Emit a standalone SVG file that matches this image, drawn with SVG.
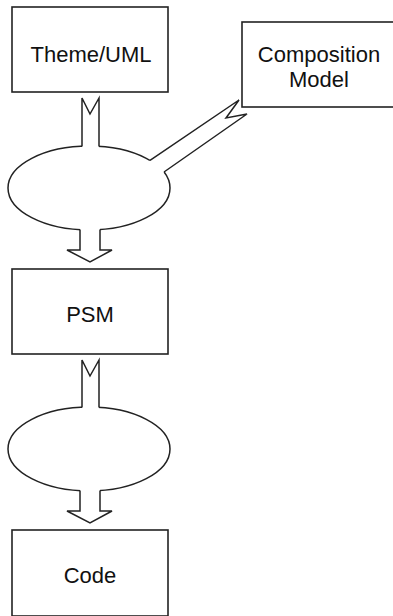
<svg xmlns="http://www.w3.org/2000/svg" width="393" height="616" viewBox="0 0 393 616">
<style>
.box{fill:#fff;stroke:#222;stroke-width:1.6}
.ell{fill:#fff;stroke:#222;stroke-width:1.5}
.cov{fill:#fff;stroke:none}
.ln{fill:none;stroke:#222;stroke-width:1.5;stroke-linejoin:miter}
.t{font-family:"Liberation Sans",Arial,sans-serif;font-size:22px;fill:#111;text-anchor:middle}
</style>
<rect width="393" height="616" fill="#fff"/>
<g id="theme-uml">
<rect class="box" x="12" y="7" width="156" height="85"/>
<text class="t" x="91" y="62">Theme/UML</text>
</g>
<g id="composition-model">
<rect class="box" x="242" y="22" width="156" height="85"/>
<text class="t" x="319" y="62">Composition</text>
<text class="t" x="319" y="87">Model</text>
</g>
<g id="transform1">
<ellipse class="ell" cx="89" cy="188" rx="81" ry="42"/>
</g>
<g id="psm">
<rect class="box" x="12" y="269" width="156" height="85"/>
<text class="t" x="90" y="322">PSM</text>
</g>
<g id="transform2">
<ellipse class="ell" cx="89" cy="449" rx="81" ry="42"/>
</g>
<g id="code">
<rect class="box" x="12" y="530" width="156" height="86"/>
<text class="t" x="90" y="583">Code</text>
</g>
<g id="connectors">
<polygon class="cov" points="82,98 90,114 99,98 99,150 82,150"/>
<polyline class="ln" points="82,146.6 82,98 90,114 99,98 99,146.6"/>
<polygon class="cov" points="150,160.4 239,100 226,118 247,114 164,172 160,177 145,164"/>
<polyline class="ln" points="150,160.4 239,100 226,118 247,114 164,172"/>
<polygon class="cov" points="80,226 100,226 100,250 112,250 90,262 67,250 80,250"/>
<polyline class="ln" points="80,229.6 80,250 67,250 90,262 112,250 100,250 100,229.6"/>
<polygon class="cov" points="82,360 90,376 99,360 99,411 82,411"/>
<polyline class="ln" points="82,407.6 82,360 90,376 99,360 99,407.6"/>
<polygon class="cov" points="80,487 100,487 100,511 112,511 90,523 67,511 80,511"/>
<polyline class="ln" points="80,490.6 80,511 67,511 90,523 112,511 100,511 100,490.6"/>
</g>
</svg>
